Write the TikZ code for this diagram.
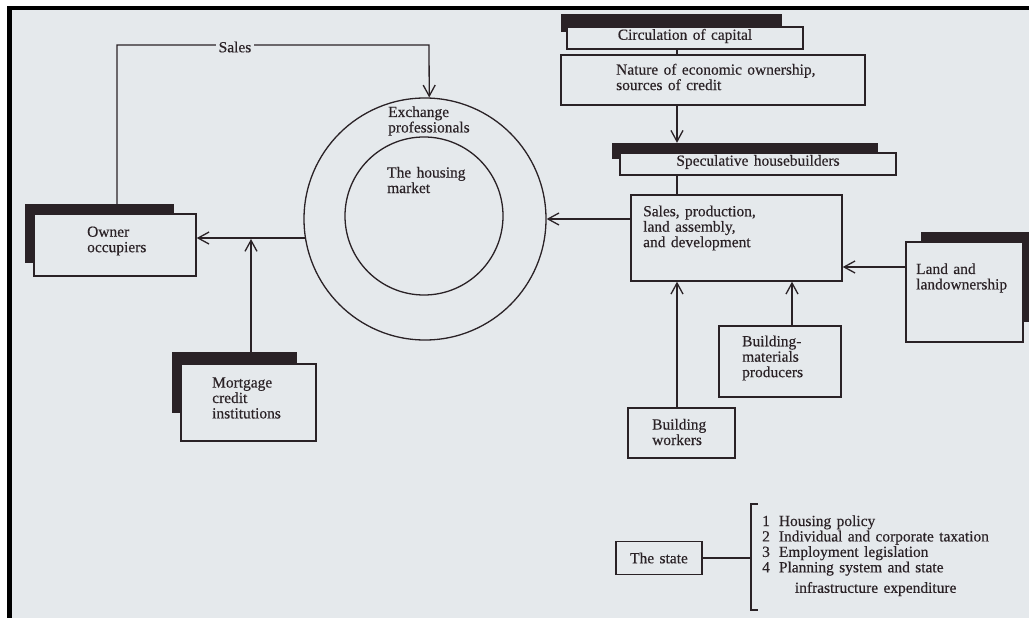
\documentclass[tikz,border=0pt]{standalone}
\usepackage{fontspec}
\setmainfont{Liberation Serif}[WordSpace=1.4, FakeBold=0.35]
\usetikzlibrary{arrows.meta}
\definecolor{paper}{HTML}{E5E9EC}
\definecolor{ink}{HTML}{2A2226}

\begin{document}
\begin{tikzpicture}[x=1bp,y=-1bp,
  every node/.style={font=\fontsize{15.5}{15.5}\selectfont, text=ink},
  sized/.style 2 args={minimum width=#1bp, minimum height=#2bp},
  box/.style={draw=ink, line width=1.4bp, fill=paper, rectangle, inner sep=0pt},
  backing/.style={fill=ink, draw=none, rectangle, inner sep=0pt},
  ring/.style={draw=ink, line width=1.3bp, circle, inner sep=0pt},
  txt/.style={align=left, inner sep=0pt},
  link/.style={draw=ink, line width=1.3bp},
  arr/.style={link, -{Straight Barb[length=11bp, width=12bp, line width=1.3bp]}}]

% page and frame
\useasboundingbox (0,0) rectangle (1029,618);
\fill[white] (0,0) rectangle (1029,618);
\fill[paper] (7,6) rectangle (1029,618);
\fill[black] (7,6) rectangle (1029,10);
\fill[black] (7,6) rectangle (12,618);

% black backing panels
\node[backing, sized={149}{59}] (ownersh) at (99.5,233.5) {};
\node[backing, sized={125}{61}] (mortsh) at (234.5,382.5) {};
\node[backing, sized={221}{18}] (circsh) at (671.5,23) {};
\node[backing, sized={266}{16}] (specsh) at (745,151) {};
\node[backing, sized={114}{90}] (landsh) at (978,277) {};

% boxes
\node[box, sized={162}{62}] (owner) at (115,245) {};
\node[box, sized={135}{77}] (mort) at (248.5,402.5) {};
\node[box, sized={236}{22}] (circ) at (685,38) {};
\node[box, sized={304}{50}] (nature) at (713,80) {};
\node[box, sized={276}{22}] (spec) at (758,164) {};
\node[box, sized={211}{86}] (sales) at (736.5,238) {};
\node[box, sized={117}{100}] (land) at (964.5,292) {};
\node[box, sized={107}{50}] (workers) at (681.5,433) {};
\node[box, sized={122}{71}] (mater) at (780,361.5) {};
\node[box, sized={86}{33}] (state) at (659,558) {};

% the market rings
\node[ring, minimum size=242bp] (mkt) at (425,219) {};
\node[ring, minimum size=158bp] (core) at (424,216) {};

% labels
\node[txt, anchor=west] (ownerlbl) at (87,241) {Owner\\occupiers};
\node[txt, anchor=west] (mortlbl) at (212,398) {Mortgage\\credit\\institutions};
\node[txt] (circlbl) at (685,36) {Circulation of capital};
\node[txt, anchor=west] (naturelbl) at (616,77) {Nature of economic ownership,\\sources of credit};
\node[txt] (speclbl) at (758,162) {Speculative housebuilders};
\node[txt, anchor=west] (saleslbl) at (643,228) {Sales, production,\\land assembly,\\and development};
\node[txt, anchor=west] (landlbl) at (916,278) {Land and\\landownership};
\node[txt, anchor=west] (workerslbl) at (652,432) {Building\\workers};
\node[txt, anchor=west] (materlbl) at (742,358) {Building-\\materials\\producers};
\node[txt] (statelbl) at (659,558) {The state};
\node[txt, anchor=west] (exchlbl) at (388,121) {Exchange\\professionals};
\node[txt, anchor=west] (marketlbl) at (387,180) {The housing\\market};

% connectors
\draw[arr] (ownersh.north -| 117,0) -- (117,45) -- (429,45) -- (mkt.88);
\node[fill=paper, inner sep=3bp] (saleslink) at (235,47) {Sales};
\draw[arr] (mkt.189.5) -- (owner.east |- mkt.189.5);
\coordinate (join) at (251,239);
\draw[arr] (mortsh.north -| join) -- (join);
\draw[link] (circ.south -| 677,0) -- (nature.north -| 677,0);
\draw[arr] (nature.south -| 677,0) -- (specsh.north -| 677,0);
\draw[link] (spec.south -| 677,0) -- (sales.north -| 677,0);
\draw[arr] (sales.west |- mkt.east) -- (mkt.east);
\draw[arr] (land.west |- 0,267) -- (sales.east |- 0,267);
\draw[arr] (workers.north -| 677,0) -- (sales.south -| 677,0);
\draw[arr] (mater.north -| 792,0) -- (sales.south -| 792,0);

% the state and its fields of action
\coordinate (brtop) at (758,504);
\coordinate (brbot) at (758,610);
\draw[link] (brtop) -- (751,504) -- (751,610) -- (brbot);
\draw[link] (state.east) -- (state.east -| 751,0);
\node[txt, anchor=north west] (policy) at (762,515) {%
  \begin{tabular}{@{}l@{\hspace{9bp}}l@{}}
  1 & Housing policy\\
  2 & Individual and corporate taxation\\
  3 & Employment legislation\\
  4 & Planning system and state\\[5bp]
    & \hspace{16bp}infrastructure expenditure
  \end{tabular}};
\end{tikzpicture}
\end{document}
